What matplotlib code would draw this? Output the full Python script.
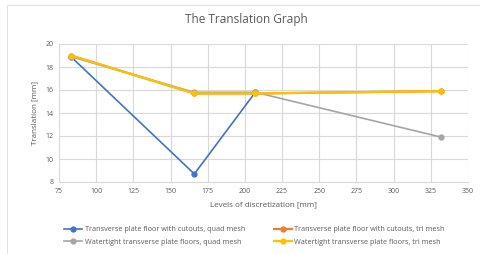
import matplotlib
matplotlib.use("Agg")
import matplotlib.pyplot as plt
from matplotlib.patches import Rectangle

x_blue = [83, 166, 207]
y_blue = [18.9, 8.7, 15.8]
x_all = [83, 166, 207, 332]
y_orange = [19.0, 15.7, 15.7, 15.9]
y_grey = [18.9, 15.8, 15.8, 11.9]
y_yellow = [19.0, 15.7, 15.7, 15.9]

labels = ["Transverse plate floor with cutouts, quad mesh",
          "Transverse plate floor with cutouts, tri mesh",
          "Watertight transverse plate floors, quad mesh",
          "Watertight transverse plate floors, tri mesh"]
colors = ["#4472C4", "#ED7D31", "#A5A5A5", "#FFC000"]
txt = "#595959"

plt.rcParams['font.family'] = ['Open Sans', 'DejaVu Sans']

fig = plt.figure(figsize=(4.8, 2.54), dpi=100)
fig.patches.append(Rectangle((7/480, -0.1), 1.2, 1 - 5/254 + 0.1, transform=fig.transFigure,
                             fill=False, edgecolor="#E0E0E0", lw=0.8))
ax = fig.add_axes([59/480, 1 - 182/254, 409/480, 138/254])

h0, = ax.plot(x_blue, y_blue, color=colors[0], marker='o', ms=3.5, lw=1.2, label=labels[0], zorder=3)
h1, = ax.plot(x_all, y_orange, color=colors[1], marker='o', ms=3.5, lw=1.6, label=labels[1], zorder=3)
h2, = ax.plot(x_all, y_grey, color=colors[2], marker='o', ms=3.5, lw=1.2, label=labels[2], zorder=3)
h3, = ax.plot(x_all, y_yellow, color=colors[3], marker='o', ms=3.5, lw=1.6, label=labels[3], zorder=4)

ax.set_xlim(75, 350)
ax.set_ylim(8, 20)
ax.set_xticks(range(75, 351, 25))
ax.set_yticks(range(8, 21, 2))
ax.grid(True, color="#D9D9D9", lw=0.8)
ax.set_axisbelow(True)
for s in ["top", "right", "left"]:
    ax.spines[s].set_visible(False)
ax.spines["bottom"].set_color("#D9D9D9")
ax.tick_params(length=0, labelsize=5, colors=txt, pad=4)
ax.set_xlabel("Levels of discretization [mm]", fontsize=5.8, color=txt, labelpad=5)
ax.set_ylabel("Translation [mm]", fontsize=5.8, color=txt, labelpad=5)
fig.text(246/480, 1 - 20/254, "The Translation Graph", ha="center", va="center", fontsize=8.5, color=txt)

fig.legend([h0, h2, h1, h3], [labels[0], labels[2], labels[1], labels[3]],
           loc="center", bbox_to_anchor=(0.53, 1 - 236/254), ncol=2, frameon=False,
           prop={'size': 5.2}, labelcolor=txt, columnspacing=4.0, handlelength=2.5,
           handletextpad=0.3, labelspacing=0.8)

fig.savefig("out.png", dpi=100)
